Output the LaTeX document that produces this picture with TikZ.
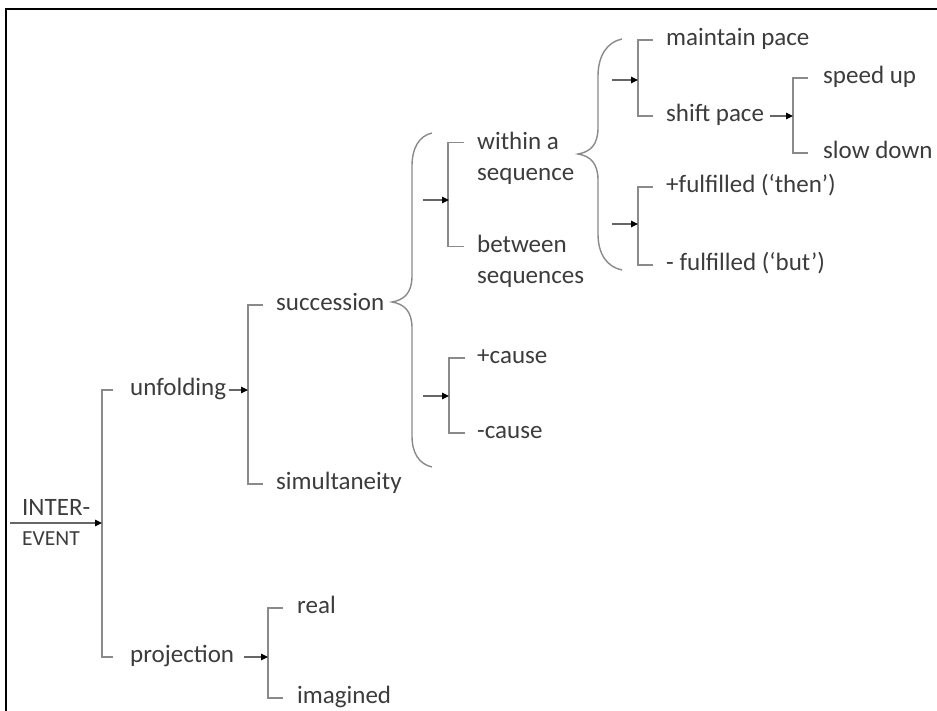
\documentclass[tikz,border=0pt]{standalone}
\usepackage{fontspec}
\setmainfont{Carlito}
\usetikzlibrary{arrows.meta,calc}
\definecolor{txt}{HTML}{3C3C3C}
\definecolor{ln}{HTML}{8A8A8A}
\begin{document}
\begin{tikzpicture}[x=1pt,y=-1pt,
  execute at begin picture={\fontsize{25}{31}\selectfont},
  lbl/.style={anchor=mid west, inner sep=0pt, text=txt, font=\fontsize{25}{31}\selectfont},
  brk/.style={draw=ln, line width=1.5pt},
  brc/.style={draw=ln, line width=1.4pt},
  arr/.style={draw=black!60, line width=1.1pt, -{Triangle[length=7pt,width=6.5pt,color=black]}},
]
\useasboundingbox (0,0) rectangle (937,711);
\fill[white] (0,0) rectangle (937,711);
% frame
\draw[line width=2pt, black] (6,715) -- (6,9) -- (940,9);

% root label
\node[anchor=base west, inner sep=0pt, text=txt, font=\fontsize{25}{30}\selectfont] (inter) at (22,515) {INTER-};
\node[anchor=base west, inner sep=0pt, text=txt, font=\fontsize{21.5}{26}\selectfont] (event) at (22,545) {EVENT};

% labels
\node[lbl] (unf) at (130,390) {unfolding};
\node[lbl] (proj) at (130,657) {projection};
\node[lbl] (succ) at (276,305) {succession};
\node[lbl] (simu) at (276,484) {simultaneity};
\node[lbl, align=left, anchor=west] (within) at (477,158) {within a\\sequence};
\node[lbl, align=left, anchor=west] (between) at (477,261) {between\\sequences};
\node[lbl] (pcause) at (477,358) {+cause};
\node[lbl] (mcause) at (477,433) {-cause};
\node[lbl] (maint) at (666,40) {maintain pace};
\node[lbl] (shift) at (666,116) {shift pace};
\node[lbl] (speed) at (823,78) {speed up};
\node[lbl] (slow) at (823,153) {slow down};
\node[lbl] (pful) at (666,187) {+fulfilled (‘then’)};
\node[lbl] (mful) at (666,265) {- fulfilled (‘but’)};
\node[lbl] (real) at (297,608) {real};
\node[lbl] (imag) at (297,698) {imagined};

% coordinates for free ends
\coordinate (rootin) at (10,523);
\coordinate (v0) at (102,523);
\coordinate (v1) at (248,0);
\coordinate (v2) at (268,0);
\coordinate (v3) at (793,0);
\coordinate (wt) at ($(within.north west)+(-13,11)$);
\coordinate (bt) at ($(between.north west)+(-13,12)$);
\coordinate (a1s) at (423,200);
\coordinate (a1e) at (449,200);
\coordinate (a2s) at (423,396);
\coordinate (a2e) at (449,396);
\coordinate (a3s) at (612,80);
\coordinate (a3e) at (638,80);
\coordinate (a4s) at (612,224);
\coordinate (a4e) at (638,224);

% brackets
\draw[brk] ($(unf.mid west)+(-17,0)$) -| ($(proj.mid west)+(-28,0)$) -- ($(proj.mid west)+(-17,0)$);
\draw[brk] ($(succ.mid west)+(-13,0)$) -| ($(simu.mid west)+(-28,0)$) -- ($(simu.mid west)+(-13,0)$);
\draw[brk] (wt) -| ($(bt)+(-16,0)$) -- (bt);
\draw[brk] ($(pcause.mid west)+(-12,0)$) -| ($(mcause.mid west)+(-28,0)$) -- ($(mcause.mid west)+(-12,0)$);
\draw[brk] ($(maint.mid west)+(-13,0)$) -| ($(shift.mid west)+(-28,0)$) -- ($(shift.mid west)+(-13,0)$);
\draw[brk] ($(speed.mid west)+(-15,0)$) -| ($(slow.mid west)+(-30,0)$) -- ($(slow.mid west)+(-15,0)$);
\draw[brk] ($(pful.mid west)+(-13,0)$) -| ($(mful.mid west)+(-28,0)$) -- ($(mful.mid west)+(-13,0)$);
\draw[brk] ($(real.mid west)+(-14,0)$) -| ($(imag.mid west)+(-29,0)$) -- ($(imag.mid west)+(-14,0)$);

% braces
\draw[brc] (432,133) .. controls (419,136) and (412,148) .. (412,166) -- (412,276)
  .. controls (412,293) and (404,300) .. (392,302)
  .. controls (404,304) and (412,311) .. (412,328) -- (412,436)
  .. controls (412,453) and (419,464) .. (432,467);
\draw[brc] (622,39) .. controls (607,42) and (598,56) .. (598,76) -- (598,128)
  .. controls (598,145) and (590,152) .. (578,154)
  .. controls (590,156) and (598,163) .. (598,180) -- (598,234)
  .. controls (598,254) and (607,267) .. (622,270);

% arrows
\draw[arr] (rootin) -- (v0);
\draw[arr] ([xshift=3pt]unf.mid east) -- (unf.mid east -| v1);
\draw[arr] ([xshift=10pt]proj.mid east) -- (proj.mid east -| v2);
\draw[arr] ([xshift=6pt]shift.mid east) -- (shift.mid east -| v3);
\draw[arr] (a1s) -- (a1e);
\draw[arr] (a2s) -- (a2e);
\draw[arr] (a3s) -- (a3e);
\draw[arr] (a4s) -- (a4e);
\end{tikzpicture}
\end{document}
